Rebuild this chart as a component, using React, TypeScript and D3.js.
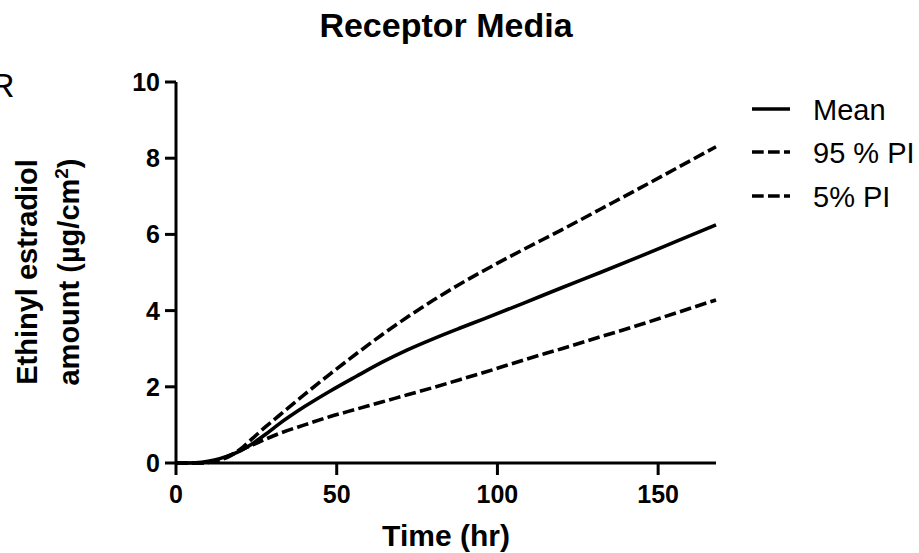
import React from "react";
import * as d3 from "d3";

const times = [0, 4, 8, 12, 16, 20, 24, 28, 32, 40, 48, 56, 64, 72, 80, 88, 96, 108, 120, 132, 144, 156, 168];
const meanVals = [0, 0, 0.02, 0.08, 0.18, 0.32, 0.52, 0.76, 1.02, 1.48, 1.89, 2.27, 2.64, 2.97, 3.26, 3.53, 3.79, 4.19, 4.6, 5.0, 5.41, 5.83, 6.25];
const upperVals = [0, 0, 0, 0.05, 0.15, 0.36, 0.66, 0.96, 1.24, 1.8, 2.34, 2.86, 3.36, 3.83, 4.27, 4.68, 5.06, 5.6, 6.12, 6.66, 7.2, 7.75, 8.3];
const lowerVals = [0, 0, 0, 0.05, 0.17, 0.33, 0.48, 0.63, 0.77, 1.0, 1.22, 1.41, 1.6, 1.79, 1.98, 2.18, 2.38, 2.7, 3.0, 3.31, 3.62, 3.95, 4.28];

const xTicks = [0, 50, 100, 150];
const yTicks = [0, 2, 4, 6, 8, 10];
const seriesNames = ["Mean", "95 % PI", "5% PI"];
const title = "Receptor Media";
const xTitle = "Time (hr)";

const FONT = "'Liberation Sans', Arial, Helvetica, sans-serif";

export default function App() {
  const W = 919, H = 553;
  const x = d3.scaleLinear().domain([0, 168]).range([176, 716]);
  const y = d3.scaleLinear().domain([0, 10]).range([463, 82]);
  const line = d3
    .line<number>()
    .x((_, i) => x(times[i]))
    .y((d) => y(d))
    .curve(d3.curveMonotoneX);

  const series = [
    { name: seriesNames[0], vals: meanVals, dash: undefined as string | undefined },
    { name: seriesNames[1], vals: upperVals, dash: "11.7,4.3" },
    { name: seriesNames[2], vals: lowerVals, dash: "11.7,4.3" },
  ];

  const legendY = [109, 152, 196];

  return (
    <svg
      width={W}
      height={H}
      style={{ position: "absolute", left: 0, top: 0, background: "#fff", overflow: "hidden" }}
      fontFamily={FONT}
    >
      <rect x={0} y={0} width={W} height={H} fill="#fff" />
      {/* stray letter clipped at the left edge, as in the reference */}
      <text x={-10} y={97} fontSize={34} fill="#000">R</text>

      {/* title */}
      <text x={446} y={37} fontSize={34} fontWeight="bold" textAnchor="middle" fill="#000">
        {title}
      </text>

      {/* curves */}
      {series.map((s) => (
        <path
          key={s.name}
          d={line(s.vals) || ""}
          fill="none"
          stroke="#000"
          strokeWidth={3.6}
          strokeDasharray={s.dash}
        />
      ))}

      {/* axes */}
      <line x1={x(0)} x2={x(0)} y1={y(10)} y2={y(0)} stroke="#000" strokeWidth={3} />
      <line x1={x(0)} x2={x(168)} y1={y(0)} y2={y(0)} stroke="#000" strokeWidth={3} />
      {yTicks.map((t) => (
        <g key={"y" + t}>
          <line x1={x(0) - 11} x2={x(0)} y1={y(t)} y2={y(t)} stroke="#000" strokeWidth={3} />
          <text x={x(0) - 16} y={y(t) + 9} fontSize={25} fontWeight="bold" textAnchor="end" fill="#000">
            {t}
          </text>
        </g>
      ))}
      {xTicks.map((t) => (
        <g key={"x" + t}>
          <line x1={x(t)} x2={x(t)} y1={y(0)} y2={y(0) + 12} stroke="#000" strokeWidth={3} />
          <text x={x(t)} y={503} fontSize={25} fontWeight="bold" textAnchor="middle" fill="#000">
            {t}
          </text>
        </g>
      ))}

      {/* axis titles */}
      <text x={446} y={546} fontSize={30} fontWeight="bold" textAnchor="middle" fill="#000">
        {xTitle}
      </text>
      <text transform="translate(37,272) rotate(-90)" fontSize={29} fontWeight="bold" textAnchor="middle" fill="#000">
        Ethinyl estradiol
      </text>
      <text transform="translate(79,272) rotate(-90)" fontSize={29} fontWeight="bold" textAnchor="middle" fill="#000">
        amount (µg/cm<tspan dy={-11} fontSize={19}>2</tspan>
        <tspan dy={11}>)</tspan>
      </text>

      {/* legend */}
      {series.map((s, i) => (
        <g key={"lg" + s.name}>
          <line
            x1={752}
            x2={790}
            y1={legendY[i]}
            y2={legendY[i]}
            stroke="#000"
            strokeWidth={3.6}
            strokeDasharray={s.dash}
          />
          <text x={813} y={legendY[i] + 11} fontSize={29} fill="#000">
            {s.name}
          </text>
        </g>
      ))}
    </svg>
  );
}
